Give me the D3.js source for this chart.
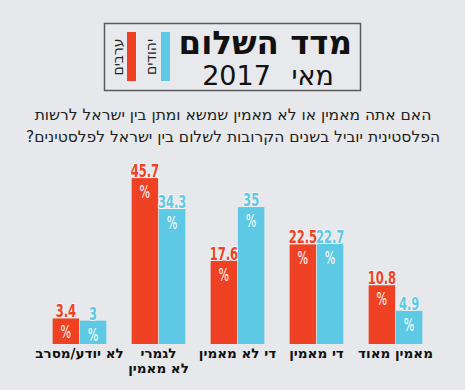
<!DOCTYPE html>
<html><head><meta charset="utf-8">
<script src="https://cdn.jsdelivr.net/npm/d3@7"></script>
<style>
html,body{margin:0;padding:0;background:#e6e8eb;}
svg{display:block;}
</style></head>
<body>
<script>
const categories = ["לא יודע/מסרב", "לגמרי לא מאמין", "די לא מאמין", "די מאמין", "מאמין מאוד"];
const categoryLines = [["לא יודע/מסרב"], ["לגמרי", "לא מאמין"], ["די לא מאמין"], ["די מאמין"], ["מאמין מאוד"]];
const seriesNames = ["ערבים", "יהודים"];
const arabs = [3.4, 45.7, 17.6, 22.5, 10.8];
const jews = [3, 34.3, 35, 22.7, 4.9];
const colors = ["#ef4123", "#5ec9e5"];
const titleLine1 = "מדד השלום";
const titleLine2 = "מאי 2017";
const question = ["האם אתה מאמין או לא מאמין שמשא ומתן בין ישראל לרשות", "הפלסטינית יוביל בשנים הקרובות לשלום בין ישראל לפלסטינים?"];

const W = 465, H = 390;
const svg = d3.select("body").append("svg").attr("width", W).attr("height", H);
svg.append("rect").attr("width", W).attr("height", H).attr("fill", "#e6e8eb");

const heb = "'DejaVu Sans', 'Liberation Sans', sans-serif";

// Title box
const box = svg.append("g");
box.append("rect").attr("x", 104.5).attr("y", 23.5).attr("width", 256).attr("height", 67)
  .attr("fill", "#e8e9ec").attr("stroke", "#5a5a5a").attr("stroke-width", 1.5);
box.append("text").attr("x", 352).attr("y", 54).attr("text-anchor", "end")
  .attr("font-family", heb).attr("font-weight", "bold").attr("font-size", 32.5).attr("fill", "#111")
  .text(titleLine1);
box.append("text").attr("x", 268).attr("y", 85).attr("text-anchor", "middle")
  .attr("font-family", heb).attr("font-size", 27).attr("word-spacing", 12).attr("fill", "#111")
  .text(titleLine2);
// legend inside title box
const legX = [127, 161];
const legTX = [118, 151];
seriesNames.forEach((n, i) => {
  box.append("rect").attr("x", legX[i]).attr("y", 32).attr("width", 9).attr("height", 49).attr("fill", colors[i]);
  box.append("text").attr("transform", `translate(${legTX[i]},57) rotate(-90)`)
    .attr("text-anchor", "middle").attr("dominant-baseline", "central")
    .attr("font-family", heb).attr("font-size", 14).attr("fill", "#222").text(n);
});

// Question
svg.append("g").selectAll("text").data(question).join("text")
  .attr("x", 233).attr("y", (d, i) => 120 + i * 22).attr("text-anchor", "middle").attr("direction", "rtl")
  .attr("font-family", heb).attr("font-size", 15.5).attr("fill", "#222").text(d => d);

// Scales
const x0 = d3.scaleBand().domain(categories).range([40, 435]).paddingInner(0.32).paddingOuter(0.16);
const x1 = d3.scaleBand().domain(seriesNames).range([0, x0.bandwidth()]).paddingInner(0.03);
const y = d3.scalePow().exponent(0.72).domain([0, 50]).range([344, 167]);

const rows = categories.map((c, i) => ({cat: c, lines: categoryLines[i], vals: [arabs[i], jews[i]]}));

const g = svg.append("g");
const grp = g.selectAll("g.grp").data(rows).join("g").attr("class", "grp")
  .attr("transform", d => `translate(${x0(d.cat)},0)`);

const bars = grp.selectAll("g.bar").data(d => d.vals.map((v, k) => ({v, k, s: seriesNames[k]}))).join("g").attr("class", "bar");
bars.append("rect").attr("x", d => x1(d.s)).attr("y", d => y(d.v)).attr("width", x1.bandwidth())
  .attr("height", d => y(0) - y(d.v)).attr("fill", d => colors[d.k]);
bars.append("g").attr("transform", d => `translate(${x1(d.s) + x1.bandwidth() / 2},${y(d.v) - 1}) scale(0.68,1)`)
  .append("text").attr("text-anchor", "middle").attr("font-family", heb).attr("font-weight", "bold")
  .attr("font-size", 17).attr("fill", d => colors[d.k])
  .attr("stroke", "#f3f4f5").attr("stroke-width", 2).attr("paint-order", "stroke")
  .text(d => d.v);
bars.append("g").attr("transform", d => `translate(${x1(d.s) + x1.bandwidth() / 2},${y(d.v) + 20}) scale(0.62,1)`)
  .append("text").attr("text-anchor", "middle").attr("font-family", heb)
  .attr("font-size", 18).attr("fill", "#fff").text("%");

// Category labels
grp.append("text").attr("text-anchor", "middle")
  .attr("font-family", heb).attr("font-weight", "bold").attr("font-size", 13.5).attr("fill", "#111")
  .selectAll("tspan").data(d => d.lines).join("tspan")
  .attr("x", x0.bandwidth() / 2).attr("y", (d, i) => 358 + i * 15).text(d => d);
</script>
</body></html>
